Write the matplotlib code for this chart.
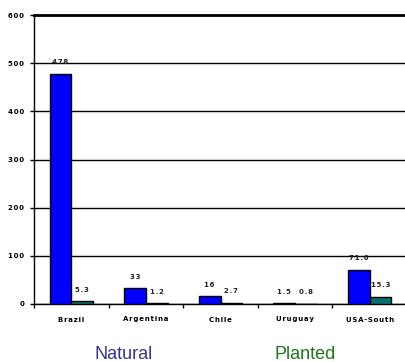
import matplotlib.pyplot as plt
import numpy as np

# data
regions = ['Brazil', 'Argentina', 'Chile', 'Uruguay', 'USA-South']
natural = [478, 33, 16, 1.5, 71.6]
planted = [5.3, 1.2, 2.7, 0.8, 15.3]
natural_lbl = ['478', '33', '16', '1.5', '71.6']
planted_lbl = ['5.3', '1.2', '2.7', '0.8', '15.3']
yticks = [0, 100, 200, 300, 400, 500, 600]

def spaced(s):
    # wide letter spacing like the original
    return '\u200a'.join(s)

fig = plt.figure(figsize=(4.06, 3.62), dpi=100)
ax = fig.add_axes([34/406, 58/362, 373/406, 289/362])

x = np.arange(len(regions))
w = 0.29
ax.bar(x - w/2, natural, w, color='#0000ff', edgecolor='black', linewidth=1, zorder=3)
ax.bar(x + w/2, planted, w, color='#087070', edgecolor='black', linewidth=1, zorder=3)

for xi, v, t in zip(x, natural, natural_lbl):
    ax.text(xi - w/2, v + 24, spaced(t), ha='center', va='center', fontsize=5,
            fontweight='bold', color='#222222')
for xi, v, t in zip(x, planted, planted_lbl):
    ax.text(xi + w/2, v + 24, spaced(t), ha='center', va='center', fontsize=5,
            fontweight='bold', color='#222222')

ax.set_xlim(-0.5, len(regions) - 0.5)
ax.set_ylim(0, 600)
ax.set_yticks(yticks)
ax.set_yticklabels([spaced(str(t)) for t in yticks], fontsize=5, fontweight='bold')
ax.yaxis.grid(True, color='black', linewidth=1)
ax.set_axisbelow(True)

ax.set_xticks(np.arange(len(regions) + 1) - 0.5)
ax.set_xticklabels([])
ax.set_xticks(x, minor=True)
ax.set_xticklabels([spaced(r) for r in regions], minor=True, fontsize=5, fontweight='bold')
ax.tick_params(axis='x', which='minor', length=0, pad=9)
ax.tick_params(axis='x', which='major', length=3, width=1, direction='out')
ax.tick_params(axis='y', length=3, width=1, pad=4)

ax.spines['right'].set_visible(False)
ax.spines['top'].set_linewidth(2)
ax.spines['left'].set_linewidth(1)
ax.spines['bottom'].set_linewidth(1)

fig.text(124/406, 3/362, 'Natural', color='#333399', fontsize=13,
         ha='center', va='baseline', family='Liberation Sans')
fig.text(305/406, 3/362, 'Planted', color='#1a7a1a', fontsize=13,
         ha='center', va='baseline', family='Liberation Sans')

fig.savefig('out.png', dpi=100)
